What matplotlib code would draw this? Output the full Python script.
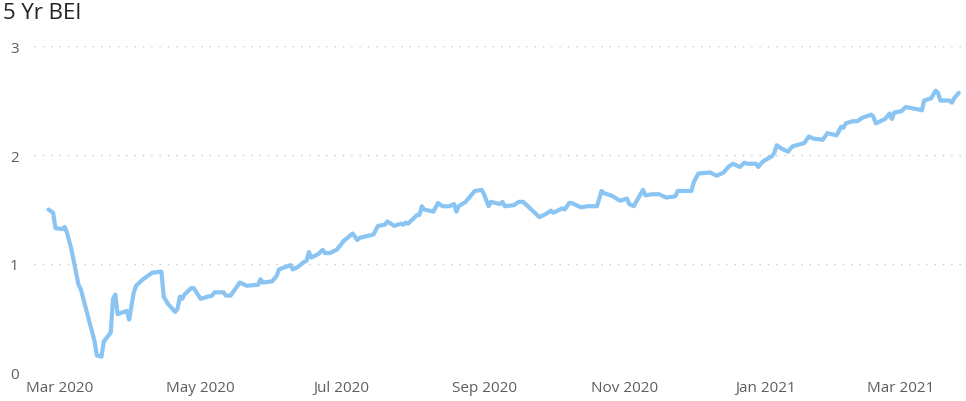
import matplotlib
matplotlib.use("Agg")
import matplotlib.pyplot as plt
import matplotlib.dates as mdates
import pandas as pd

plt.rcParams['font.family'] = ['Open Sans', 'DejaVu Sans']

# 5 year breakeven inflation
dates = [
    "2020-02-25", "2020-02-27", "2020-02-28", "2020-03-02", "2020-03-03", "2020-03-04",
    "2020-03-06", "2020-03-09", "2020-03-10", "2020-03-12", "2020-03-15", "2020-03-16",
    "2020-03-17", "2020-03-19", "2020-03-20", "2020-03-23", "2020-03-24", "2020-03-25",
    "2020-03-26", "2020-03-30", "2020-03-31", "2020-04-02", "2020-04-03", "2020-04-06",
    "2020-04-08", "2020-04-10", "2020-04-14", "2020-04-15", "2020-04-17", "2020-04-20",
    "2020-04-21", "2020-04-22", "2020-04-23", "2020-04-24", "2020-04-27", "2020-04-28",
    "2020-05-01", "2020-05-04", "2020-05-06", "2020-05-07", "2020-05-11", "2020-05-12",
    "2020-05-14", "2020-05-18", "2020-05-19", "2020-05-21", "2020-05-26", "2020-05-27",
    "2020-05-28", "2020-06-01", "2020-06-03", "2020-06-04", "2020-06-09", "2020-06-10",
    "2020-06-12", "2020-06-15", "2020-06-16", "2020-06-17", "2020-06-18", "2020-06-21",
    "2020-06-23", "2020-06-24", "2020-06-26", "2020-06-29", "2020-07-01", "2020-07-02",
    "2020-07-06", "2020-07-08", "2020-07-09", "2020-07-13", "2020-07-15", "2020-07-17",
    "2020-07-20", "2020-07-21", "2020-07-24", "2020-07-27", "2020-07-28", "2020-07-29",
    "2020-07-30", "2020-08-03", "2020-08-04", "2020-08-05", "2020-08-06", "2020-08-10",
    "2020-08-12", "2020-08-14", "2020-08-17", "2020-08-19", "2020-08-20", "2020-08-21",
    "2020-08-24", "2020-08-26", "2020-08-28", "2020-08-31", "2020-09-01", "2020-09-03",
    "2020-09-04", "2020-09-08", "2020-09-09", "2020-09-10", "2020-09-14", "2020-09-16",
    "2020-09-18", "2020-09-21", "2020-09-22", "2020-09-25", "2020-09-28", "2020-09-30",
    "2020-10-01", "2020-10-05", "2020-10-06", "2020-10-08", "2020-10-09", "2020-10-13",
    "2020-10-16", "2020-10-20", "2020-10-22", "2020-10-23", "2020-10-26", "2020-10-27",
    "2020-10-30", "2020-11-02", "2020-11-03", "2020-11-05", "2020-11-06", "2020-11-09",
    "2020-11-10", "2020-11-13", "2020-11-16", "2020-11-19", "2020-11-23", "2020-11-24",
    "2020-11-30", "2020-12-01", "2020-12-03", "2020-12-08", "2020-12-11", "2020-12-14",
    "2020-12-16", "2020-12-18", "2020-12-21", "2020-12-23", "2020-12-24", "2020-12-28",
    "2020-12-29", "2020-12-31", "2021-01-04", "2021-01-05", "2021-01-06", "2021-01-08",
    "2021-01-11", "2021-01-12", "2021-01-13", "2021-01-18", "2021-01-20", "2021-01-22",
    "2021-01-26", "2021-01-28", "2021-02-01", "2021-02-03", "2021-02-04", "2021-02-05",
    "2021-02-08", "2021-02-10", "2021-02-12", "2021-02-16", "2021-02-17", "2021-02-18",
    "2021-02-22", "2021-02-24", "2021-02-25", "2021-02-26", "2021-03-01", "2021-03-03",
    "2021-03-08", "2021-03-10", "2021-03-11", "2021-03-14", "2021-03-16", "2021-03-17",
    "2021-03-18", "2021-03-22", "2021-03-23", "2021-03-24", "2021-03-26",
]
bei = [
    1.50, 1.47, 1.33, 1.32, 1.34, 1.29,
    1.13, 0.81, 0.77, 0.61, 0.37, 0.29,
    0.16, 0.15, 0.29, 0.37, 0.68, 0.72,
    0.54, 0.57, 0.49, 0.74, 0.80, 0.86,
    0.89, 0.92, 0.93, 0.70, 0.63, 0.56,
    0.59, 0.70, 0.68, 0.72, 0.78, 0.78,
    0.68, 0.70, 0.71, 0.74, 0.74, 0.71,
    0.71, 0.83, 0.82, 0.80, 0.81, 0.86,
    0.83, 0.84, 0.89, 0.95, 0.99, 0.95,
    0.97, 1.02, 1.03, 1.11, 1.06, 1.09,
    1.13, 1.10, 1.10, 1.13, 1.18, 1.21,
    1.28, 1.22, 1.24, 1.26, 1.27, 1.35,
    1.36, 1.39, 1.35, 1.37, 1.36, 1.38,
    1.37, 1.45, 1.45, 1.53, 1.50, 1.48,
    1.56, 1.53, 1.53, 1.55, 1.48, 1.53,
    1.57, 1.62, 1.67, 1.68, 1.64, 1.53,
    1.57, 1.55, 1.57, 1.53, 1.54, 1.57,
    1.57, 1.51, 1.49, 1.43, 1.46, 1.49,
    1.47, 1.51, 1.50, 1.56, 1.56, 1.52,
    1.53, 1.53, 1.67, 1.65, 1.63, 1.62,
    1.58, 1.60, 1.55, 1.53, 1.57, 1.68,
    1.63, 1.64, 1.64, 1.61, 1.62, 1.67,
    1.67, 1.75, 1.83, 1.84, 1.81, 1.84,
    1.89, 1.92, 1.89, 1.93, 1.92, 1.92,
    1.89, 1.94, 1.99, 2.02, 2.09, 2.06,
    2.03, 2.06, 2.08, 2.11, 2.17, 2.15,
    2.14, 2.20, 2.18, 2.26, 2.25, 2.29,
    2.31, 2.31, 2.34, 2.37, 2.35, 2.29,
    2.33, 2.38, 2.33, 2.39, 2.40, 2.44,
    2.42, 2.41, 2.50, 2.52, 2.59, 2.57,
    2.50, 2.50, 2.48, 2.52, 2.57,
]
yticks = [0, 1, 2, 3]

x = pd.to_datetime(dates)

fig = plt.figure(figsize=(9.66, 4.02), dpi=100)
ax = fig.add_axes([34 / 966, 28 / 402, 928 / 966, 327 / 402])

ax.plot(x, bei, color='#8AC4F2', linewidth=3.0, solid_joinstyle='round',
        solid_capstyle='round')

ax.set_ylim(0, 3)
ax.set_yticks(yticks)
ax.set_xlim(pd.Timestamp("2020-02-18 17:00"), pd.Timestamp("2021-03-27 10:00"))
ax.xaxis.set_major_locator(mdates.MonthLocator(bymonth=[1, 3, 5, 7, 9, 11]))
ax.xaxis.set_major_formatter(mdates.DateFormatter('%b %Y'))

ax.grid(axis='y', color='#C8C8C8', linestyle=(0, (1, 5)), linewidth=1)
ax.set_axisbelow(True)
for s in ax.spines.values():
    s.set_visible(False)
ax.tick_params(axis='both', length=0, labelsize=11, colors='#605E5C')
ax.tick_params(axis='y', pad=11)
ax.tick_params(axis='x', pad=5)

fig.text(3 / 966, 1 - 3 / 402, '5 Yr BEI', fontsize=16, color='#252423',
         ha='left', va='top')

fig.savefig('out.png', dpi=100)
